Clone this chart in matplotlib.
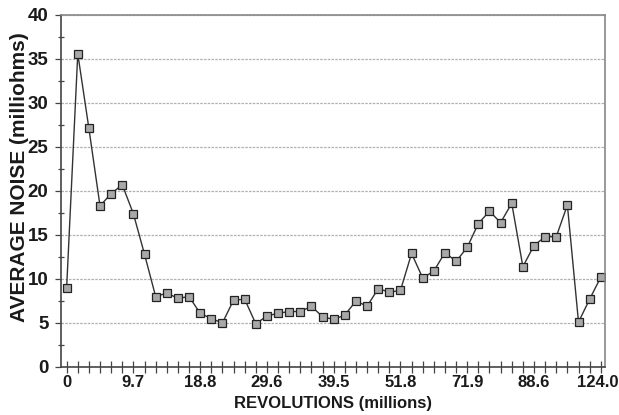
import matplotlib
matplotlib.use("Agg")
import matplotlib.pyplot as plt
import matplotlib.transforms as mtransforms
import numpy as np
from matplotlib.ticker import MultipleLocator, FixedLocator

# average noise per sample (milliohms), one per x tick
noise = [9.0, 35.6, 27.1, 18.3, 19.7, 20.7, 17.4, 12.8, 8.0, 8.4, 7.8, 8.0,
         6.1, 5.5, 5.0, 7.6, 7.7, 4.9, 5.8, 6.1, 6.3, 6.3, 6.9, 5.7,
         5.4, 5.9, 7.5, 6.9, 8.9, 8.5, 8.7, 12.9, 10.1, 10.9, 13.0, 12.0,
         13.6, 16.3, 17.7, 16.4, 18.6, 11.4, 13.8, 14.8, 14.8, 18.4, 5.1, 7.7,
         10.2]
rev_labels = ['0', '9.7', '18.8', '29.6', '39.5', '51.8', '71.9', '88.6', '124.0']
label_every = 6

plt.rcParams['font.family'] = ['Liberation Sans', 'DejaVu Sans']
plt.rcParams['font.weight'] = 'bold'

fig = plt.figure(figsize=(6.19, 4.15), dpi=100)
ax = fig.add_axes([0.0985, 0.1157, 0.8785, 0.8483])

x = np.arange(len(noise))
ax.plot(x, noise, color='#333333', lw=1.0, marker='s', ms=5.5,
        mfc='#a8a8a8', mec='#222222', mew=0.9)

ax.set_xlim(-0.51, len(noise) - 1 + 0.36)
ax.set_ylim(0, 40)

ax.xaxis.set_major_locator(FixedLocator(x[::label_every]))
ax.set_xticklabels(rev_labels)
ax.xaxis.set_minor_locator(FixedLocator(x))
ax.yaxis.set_major_locator(MultipleLocator(5))
ax.yaxis.set_minor_locator(MultipleLocator(2.5))

ax.tick_params(axis='x', which='both', direction='inout', length=8, width=0.9,
               color='#444444', labelsize=12, pad=2, labelcolor='#1a1a1a')
ax.tick_params(axis='y', which='major', direction='out', length=4, width=0.9,
               color='#444444', labelsize=13.5, labelcolor='#1a1a1a', pad=5)
ax.tick_params(axis='y', which='minor', direction='inout', length=4, width=0.9,
               color='#444444')

# last label sits a bit left so it stays inside the image
last = ax.get_xticklabels()[-1]
last.set_transform(last.get_transform() +
                   mtransforms.ScaledTranslation(-3 / 100, 0, fig.dpi_scale_trans))

ax.grid(axis='y', which='major', ls=(0, (2, 1)), color='#b0b0b0', lw=0.9)
ax.set_axisbelow(True)

for side in ['left', 'bottom']:
    ax.spines[side].set_color('#444444')
    ax.spines[side].set_linewidth(1.2)
for side in ['top', 'right']:
    ax.spines[side].set_color('#888888')
    ax.spines[side].set_linewidth(1.2)

ax.set_xlabel('REVOLUTIONS (millions)', fontsize=12, fontweight='bold',
              color='#1a1a1a')
ax.xaxis.set_label_coords(0.5, -0.083)
ax.set_ylabel('AVERAGE NOISE (milliohms)', fontsize=15, fontweight='bold',
              color='#1a1a1a')
ax.yaxis.set_label_coords(-0.058, 0.538)

fig.savefig('out.png', dpi=100)
